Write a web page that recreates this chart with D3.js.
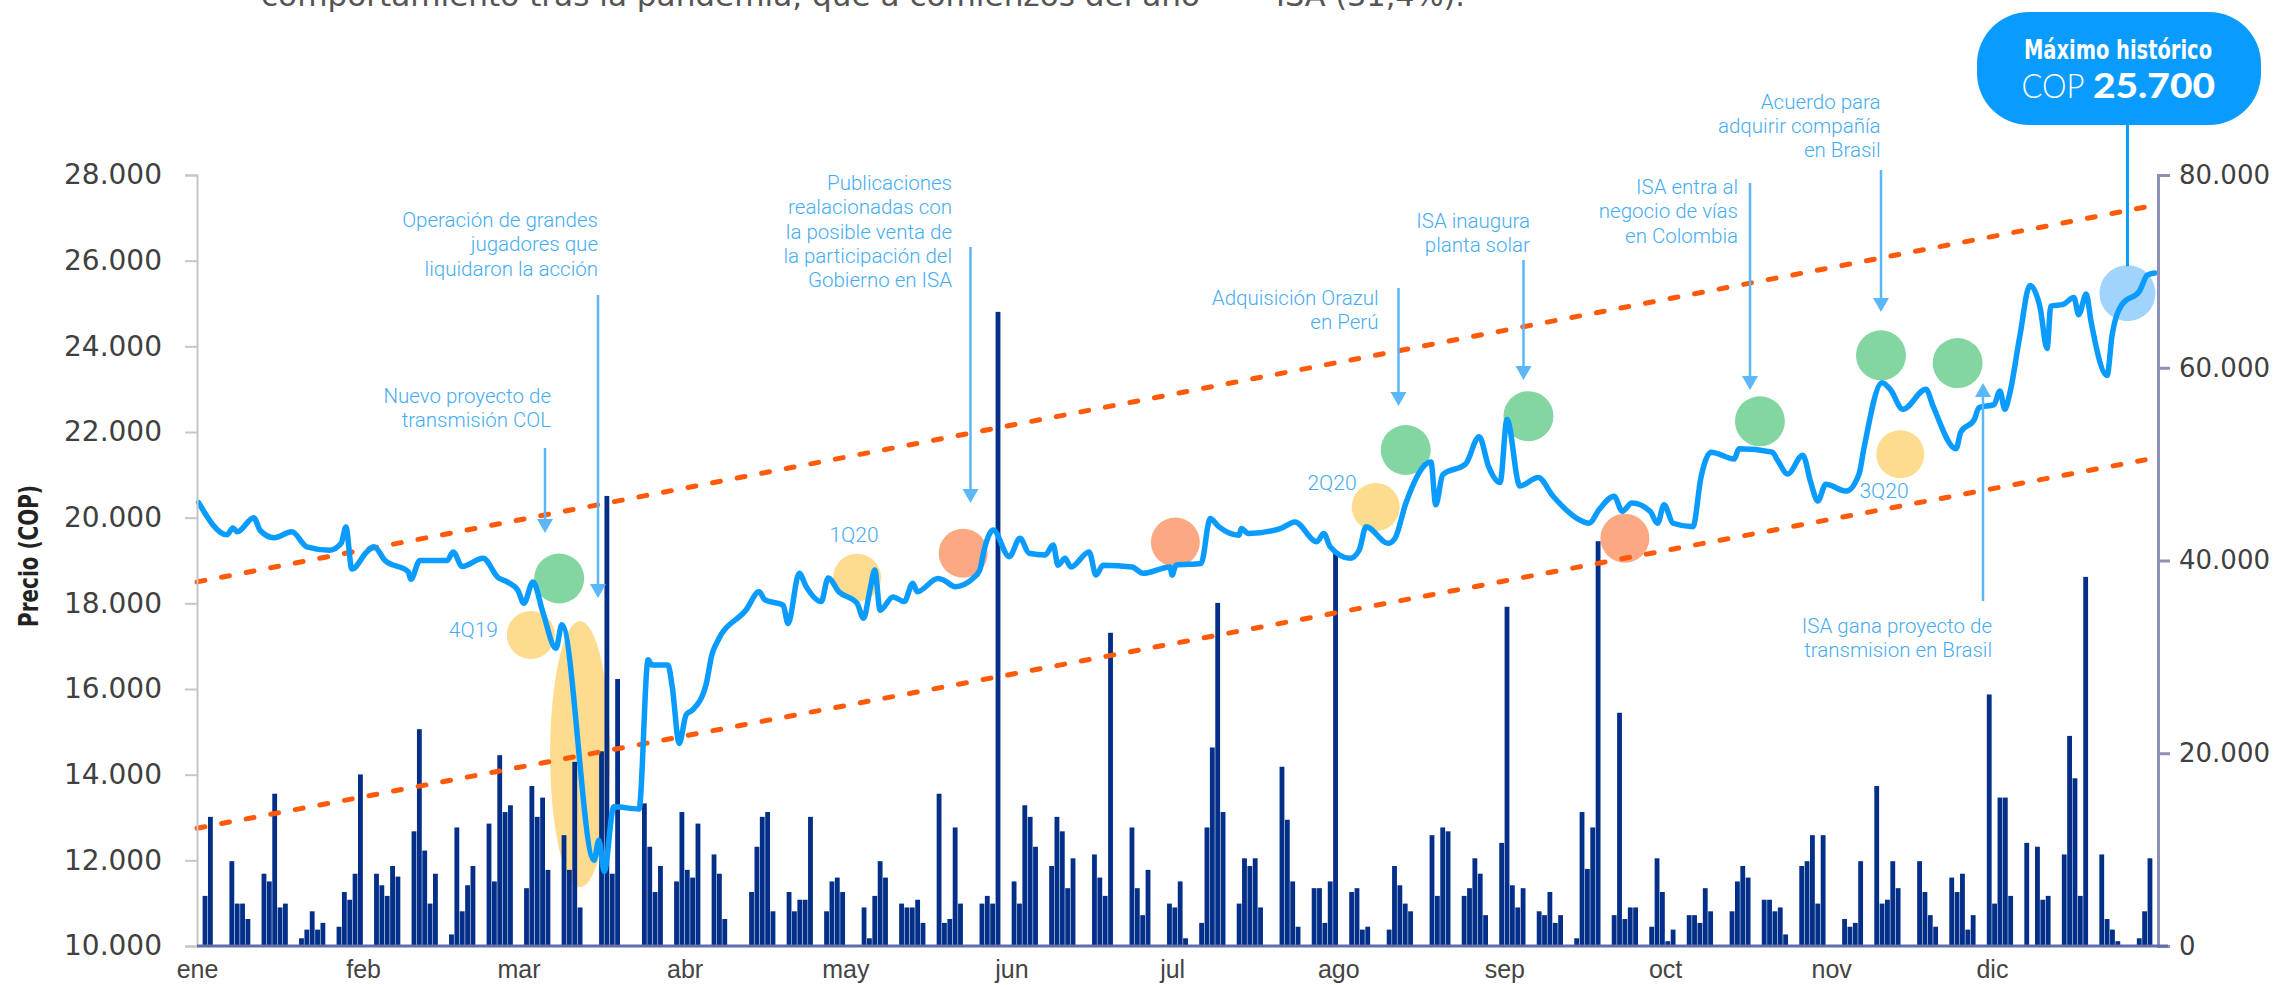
<!DOCTYPE html>
<html><head><meta charset="utf-8">
<script src="https://cdn.jsdelivr.net/npm/d3@7"></script>
<style>html,body{margin:0;padding:0;background:#fff;overflow:hidden}</style>
</head><body>
<svg id="chart" width="2274" height="985"></svg>
<script>
// ---------- DATA ----------
const monthLabels = ["ene","feb","mar","abr","may","jun","jul","ago","sep","oct","nov","dic"];
const priceTicks = [10000,12000,14000,16000,18000,20000,22000,24000,26000,28000];
const volumeTicks = [0,20000,40000,60000,80000];

// price: day of year 2020 (0 = 1 ene) and closing price (COP)
const priceDays = [0.3,5.6,6.7,7.5,10.6,11.8,14.4,17.7,20.5,24.8,26.9,27.8,28.9,31.7,33.0,35.1,39.4,39.9,41.6,46.7,47.8,49.5,53.4,56.2,57.9,59.9,61.0,62.7,64.6,67.0,68.1,74.1,75.0,76.0,77.8,82.5,84.2,84.9,87.9,88.7,90.0,91.3,92.4,95.0,96.1,97.1,102.5,104.9,106.0,109.4,110.3,112.4,113.7,116.5,117.8,119.8,123.2,124.4,125.6,126.5,127.5,129.9,132.0,133.6,134.4,138.3,139.4,141.5,144.8,146.1,146.9,148.6,151.6,153.6,155.3,158.3,159.8,160.7,162.0,163.1,166.5,167.8,169.1,174.5,176.6,181.6,182.0,182.7,187.4,189.1,190.7,194.5,194.9,196.2,202.3,204.9,209.0,210.3,211.5,215.2,216.9,218.2,222.3,223.6,225.6,230.3,231.2,232.5,236.8,239.3,241.1,243.2,244.5,246.9,250.3,253.1,258.0,259.8,261.7,264.5,266.0,267.8,271.2,272.6,273.8,275.5,279.2,280.7,282.6,286.9,287.8,294.0,295.0,296.9,299.7,301.2,302.5,304.0,307.8,310.2,311.1,314.5,316.0,318.4,322.7,324.0,328.3,329.2,331.7,332.6,335.4,336.5,337.4,338.3,340.2,342.1,344.0,345.3,346.0,348.3,350.3,351.2,352.6,353.5,356.5,357.4,359.3,362.6,364.0,365.4];
const priceValues = [20350,19600,19760,19670,20000,19700,19530,19670,19320,19240,19400,19780,18800,19200,19320,19000,18740,18560,19000,19000,19200,18860,19050,18600,18500,18300,18000,18500,17770,16950,17500,12000,12470,11740,13250,13200,16680,16560,16560,16050,14730,15400,15500,16100,16800,17100,17850,18270,18080,17960,17530,18700,18390,18040,18590,18270,18000,17650,18310,18780,17840,18150,18040,18470,18270,18580,18540,18390,18580,18780,19240,19710,19090,19520,19170,19130,19360,18890,19050,18850,19200,18660,18890,18850,18700,18850,18660,18890,18930,19980,19790,19590,19750,19630,19750,19900,19440,19630,19320,19050,19240,19790,19400,19520,20330,21300,20300,21000,21260,21890,21180,20820,22290,20740,20940,20500,19950,19870,20190,20500,20150,20340,20150,19870,20300,19870,19790,20940,21530,21370,21610,21530,21340,21020,21460,20820,20390,20780,20620,21020,21610,23150,23000,22530,23000,22610,21610,22000,22290,22570,22640,22960,22530,22880,24230,25420,24900,23950,24940,24980,25140,24740,25220,24580,23320,24230,24980,25300,25660,25710];

// daily traded volume, one value per weekday of each month (0 = holiday / no trade)
const volEne = [0,5200,13400,0,8800,4400,4400,2800,7500,6700,15800,4000,4400,800,1700,3600,1700,2400,2000,5600,4800,7500,17800];
const volFeb = [7500,6300,5200,8300,7200,11900,22500,9900,4400,7500,1200,12300,3600,6300,8300,12700,6700,19800,13900,14600];
const volMar = [6000,16600,13400,15400,7900,11500,7900,19100,4000,0,20200,46700,7500,27700,0,0,14800,10300,5600,8300,6700,13900];
const volAbr = [7900,7100,12700,9500,7500,2800,0,0,5600,10300,13400,13900,3600,5600,3600,4800,4800,13400,3600,6700,7100,5600];
const volMay = [0,4000,800,5200,8800,7100,4400,4000,4000,4800,2400,15800,2400,2800,12300,4400,0,4400,5200,4400,65800];
const volJun = [6700,4400,14600,13400,10300,8300,13400,11900,6000,9100,0,9500,7100,5200,32500,0,12300,6000,3200,7900,0,4400];
const volJul = [4000,6700,800,2400,12300,20600,35600,13900,4400,9100,8300,9100,4000,0,18600,13100,6700,2000,6000,6000,2400,6700,41000];
const volAgo = [5600,6000,1700,2000,0,1700,8300,6300,4400,3600,0,11500,5200,12300,11900,5200,6000,9100,7500,3200,10700];
const volSep = [35200,6300,4000,6000,3600,3200,5600,2400,3200,800,13900,8000,12300,42000,3200,24200,2800,4000,4000,2000,9100,5600];
const volOct = [500,1700,3200,3200,2400,6000,3600,0,3600,6700,8300,7100,4800,4800,3600,4000,1200,8300,8800,11500,4400,11500];
const volNov = [0,2800,2000,2400,8800,16600,4400,4800,8800,6000,0,8800,5600,3200,2000,7100,5600,7500,1700,3200,26100];
const volDic = [4400,15400,15400,5200,10700,0,10300,4800,5200,9500,21800,17400,5200,38300,9500,2800,1700,500,0,800,3600,9100,0];

// trend channel (price units)
const trendDays = [0, 363.6];
const trendUpper = [18500, 27250];
const trendLower = [12750, 21350];

// event markers
const markerDays   = [67.6, 62.3, 71.5, 123.2, 143.0, 182.6, 220.0, 225.6, 248.5, 266.5, 291.7, 314.3, 328.6, 317.9, 360.3];
const markerPrices = [18580,17260,14480,18600,19170,19430,20250,21580,22370,19520,22250,23790,23610,21480,25240];
const markerKinds  = ["evento","resultado","caida","resultado","noticia","noticia","resultado","evento","evento","noticia","evento","evento","evento","resultado","maximo"];

const quarterLabels = ["4Q19","1Q20","2Q20","3Q20"];
const annotationTexts = [
  ["Nuevo proyecto de","transmisión COL"],
  ["Operación de grandes","jugadores que","liquidaron la acción"],
  ["Publicaciones","realacionadas con","la posible venta de","la participación del","Gobierno en ISA"],
  ["Adquisición Orazul","en Perú"],
  ["ISA inaugura","planta solar"],
  ["ISA entra al","negocio de vías","en Colombia"],
  ["Acuerdo para","adquirir compañía","en Brasil"],
  ["ISA gana proyecto de","transmision en Brasil"]
];

// ---------- LAYOUT ----------
const X0 = 197, X1 = 2158, YT = 175, YB = 946;
const svg = d3.select("#chart");
const x = d3.scaleLinear().domain([0, 366]).range([X0, X1]);
const yP = d3.scaleLinear().domain([10000, 28000]).range([YB, YT]);
const yV = d3.scaleLinear().domain([0, 80000]).range([YB, YT]);
const loc = d3.formatLocale({decimal:",", thousands:".", grouping:[3], currency:["$",""]});
const fmt = loc.format(",");

// top (clipped) paragraph
svg.append("text").attr("x",261).attr("y",6).attr("font-family","DejaVu Sans").attr("font-size",30)
  .attr("fill","#555").attr("textLength",939).attr("lengthAdjust","spacingAndGlyphs")
  .text("comportamiento tras la pandemia, que a comienzos del año");
svg.append("text").attr("x",1276).attr("y",6).attr("font-family","DejaVu Sans").attr("font-size",30)
  .attr("fill","#555").attr("textLength",189).attr("lengthAdjust","spacingAndGlyphs")
  .text("ISA (31,4%).");

// markers
const markerColor = {evento:"#84d6a1", resultado:"#fedc8f", caida:"#fedc8f", noticia:"#fca983", maximo:"#a0d4fc"};
const markerR = {evento:25, resultado:24, noticia:24.5, maximo:28};
const gM = svg.append("g");
markerDays.forEach((d,i)=>{
  const k = markerKinds[i];
  if (k === "caida") {
    gM.append("ellipse").attr("cx",x(d)).attr("cy",yP(markerPrices[i])).attr("rx",30).attr("ry",133)
      .attr("fill",markerColor[k]);
  } else {
    gM.append("circle").attr("cx",x(d)).attr("cy",yP(markerPrices[i])).attr("r",markerR[k])
      .attr("fill",markerColor[k]);
  }
});

// volume bars
const monthVols = [volEne,volFeb,volMar,volAbr,volMay,volJun,volJul,volAgo,volSep,volOct,volNov,volDic];
const start = new Date(2020,0,1);
const bars = [];
monthVols.forEach((arr,m)=>{
  let idx = 0;
  const nd = new Date(2020,m+1,0).getDate();
  for (let dd=1; dd<=nd; dd++){
    const dt = new Date(2020,m,dd);
    const wd = dt.getDay();
    if (wd===0 || wd===6) continue;
    const v = idx < arr.length ? arr[idx] : 0;
    idx++;
    bars.push({doy:d3.timeDay.count(start,dt), v});
  }
});
const bw = (x(1)-x(0))*0.9;
svg.append("g").selectAll("rect").data(bars.filter(b=>b.v>0)).join("rect")
  .attr("x",b=>x(b.doy+0.5)-bw/2).attr("width",bw)
  .attr("y",b=>yV(b.v)).attr("height",b=>YB-yV(b.v))
  .attr("fill","#032f88");

// trend lines
const tl = d3.line().x(d=>x(d[0])).y(d=>yP(d[1]));
[trendUpper, trendLower].forEach(arr=>{
  svg.append("path").attr("d", tl(trendDays.map((d,i)=>[d,arr[i]])))
    .attr("fill","none").attr("stroke","#ff5a0a").attr("stroke-width",5)
    .attr("stroke-dasharray","8 17").attr("stroke-linecap","round");
});

// price line
const priceData = priceDays.map((d,i)=>({day:d, v:priceValues[i]}));
svg.append("path").datum(priceData)
  .attr("d", d3.line().x(d=>x(d.day)).y(d=>yP(d.v)).curve(d3.curveMonotoneX))
  .attr("fill","none").attr("stroke","#0a9bff").attr("stroke-width",5.5)
  .attr("stroke-linejoin","round").attr("stroke-linecap","round");

// axes
const gL = svg.append("g").attr("transform",`translate(${X0},0)`)
  .call(d3.axisLeft(yP).tickValues(priceTicks).tickFormat(fmt).tickSize(12).tickPadding(23));
gL.select(".domain").attr("stroke","#c6c6c6").attr("stroke-width",2);
gL.selectAll(".tick line").attr("stroke","#c6c6c6").attr("stroke-width",2);
gL.selectAll("text").attr("font-family","DejaVu Sans").attr("font-size",28).attr("fill","#404040");

const gR = svg.append("g").attr("transform",`translate(${X1},0)`)
  .call(d3.axisRight(yV).tickValues(volumeTicks).tickFormat(fmt).tickSize(12).tickPadding(9));
gR.select(".domain").attr("stroke","#8d91b8").attr("stroke-width",3);
gR.selectAll(".tick line").attr("stroke","#8d91b8").attr("stroke-width",3);
gR.selectAll("text").attr("font-family","DejaVu Sans").attr("font-size",26).attr("fill","#404040");

const monthStarts = d3.range(12).map(m=>d3.timeDay.count(start,new Date(2020,m,1)));
const gB = svg.append("g").attr("transform",`translate(0,${YB})`)
  .call(d3.axisBottom(x).tickValues(monthStarts).tickFormat((d,i)=>monthLabels[i]).tickSize(0).tickPadding(14));
gB.select(".domain").attr("d",`M${X0},0H${X1+10}`).attr("stroke","#5f6ea8").attr("stroke-width",3);
gB.selectAll("text").attr("font-family","Liberation Sans").attr("font-size",25).attr("fill","#444");

// y title
svg.append("text").attr("transform","translate(38,556) rotate(-90)").attr("text-anchor","middle")
  .attr("font-family","DejaVu Sans Condensed, DejaVu Sans").attr("font-weight","bold").attr("font-size",27)
  .attr("fill","#222").attr("textLength",142).attr("lengthAdjust","spacingAndGlyphs").text("Precio (COP)");

// annotations
const annColor = "#45acf3", arrowColor = "#5bb7f7";
const annPos = [
  {tx:551, ty:403, ax:545, a1:448, a2:533},
  {tx:598, ty:227, ax:598, a1:295, a2:598},
  {tx:952, ty:190, ax:970.5, a1:247, a2:503},
  {tx:1378.5, ty:305, ax:1398.5, a1:288, a2:406},
  {tx:1530, ty:228, ax:1523.5, a1:260, a2:380},
  {tx:1738, ty:194, ax:1750, a1:183, a2:390},
  {tx:1880.5, ty:108.5, ax:1881, a1:170, a2:312},
  {tx:1992, ty:633, ax:1983, a1:601, a2:383}
];
const gA = svg.append("g");
annotationTexts.forEach((lines,i)=>{
  const p = annPos[i];
  const t = gA.append("text").attr("text-anchor","end").attr("font-family","Roboto").attr("font-weight",300)
    .attr("font-size",20.5).attr("fill",annColor);
  lines.forEach((ln,j)=>t.append("tspan").attr("x",p.tx).attr("y",p.ty+j*24.3).text(ln));
  const dir = p.a2 > p.a1 ? 1 : -1;
  gA.append("line").attr("x1",p.ax).attr("x2",p.ax).attr("y1",p.a1).attr("y2",p.a2-dir*10)
    .attr("stroke",arrowColor).attr("stroke-width",2.5);
  gA.append("path").attr("d",`M${p.ax},${p.a2}L${p.ax-8},${p.a2-dir*14}L${p.ax+8},${p.a2-dir*14}Z`)
    .attr("fill",arrowColor);
});
const qPos = [{x:498,y:637,a:"end"},{x:854,y:542,a:"middle"},{x:1332,y:490,a:"middle"},{x:1884,y:498,a:"middle"}];
quarterLabels.forEach((q,i)=>{
  gA.append("text").attr("x",qPos[i].x).attr("y",qPos[i].y).attr("text-anchor",qPos[i].a)
    .attr("font-family","Roboto").attr("font-weight",300).attr("font-size",21).attr("fill",annColor).text(q);
});

// máximo histórico callout
const mx = x(markerDays[14]), my = yP(markerPrices[14]);
svg.append("line").attr("x1",mx).attr("x2",mx).attr("y1",124).attr("y2",my-27)
  .attr("stroke","#0a9bff").attr("stroke-width",3);
svg.append("rect").attr("x",1977).attr("y",12).attr("width",284).attr("height",113).attr("rx",52)
  .attr("fill","#0a9bff");
svg.append("text").attr("x",2118).attr("y",59).attr("text-anchor","middle")
  .attr("font-family","DejaVu Sans Condensed, DejaVu Sans").attr("font-weight","bold").attr("font-size",26)
  .attr("fill","#fff").attr("textLength",188).attr("lengthAdjust","spacingAndGlyphs").text("Máximo histórico");
svg.append("text").attr("x",2021.5).attr("y",97.5).attr("font-family","Lato").attr("font-weight",300)
  .attr("font-size",34).attr("fill","#fff").attr("textLength",63).attr("lengthAdjust","spacingAndGlyphs").text("COP");
svg.append("text").attr("x",2093).attr("y",97.5).attr("font-family","Lato, Open Sans").attr("font-weight",900)
  .attr("font-size",34).attr("fill","#fff").attr("textLength",122).attr("lengthAdjust","spacingAndGlyphs").text(fmt(25700));
</script>
</body></html>
